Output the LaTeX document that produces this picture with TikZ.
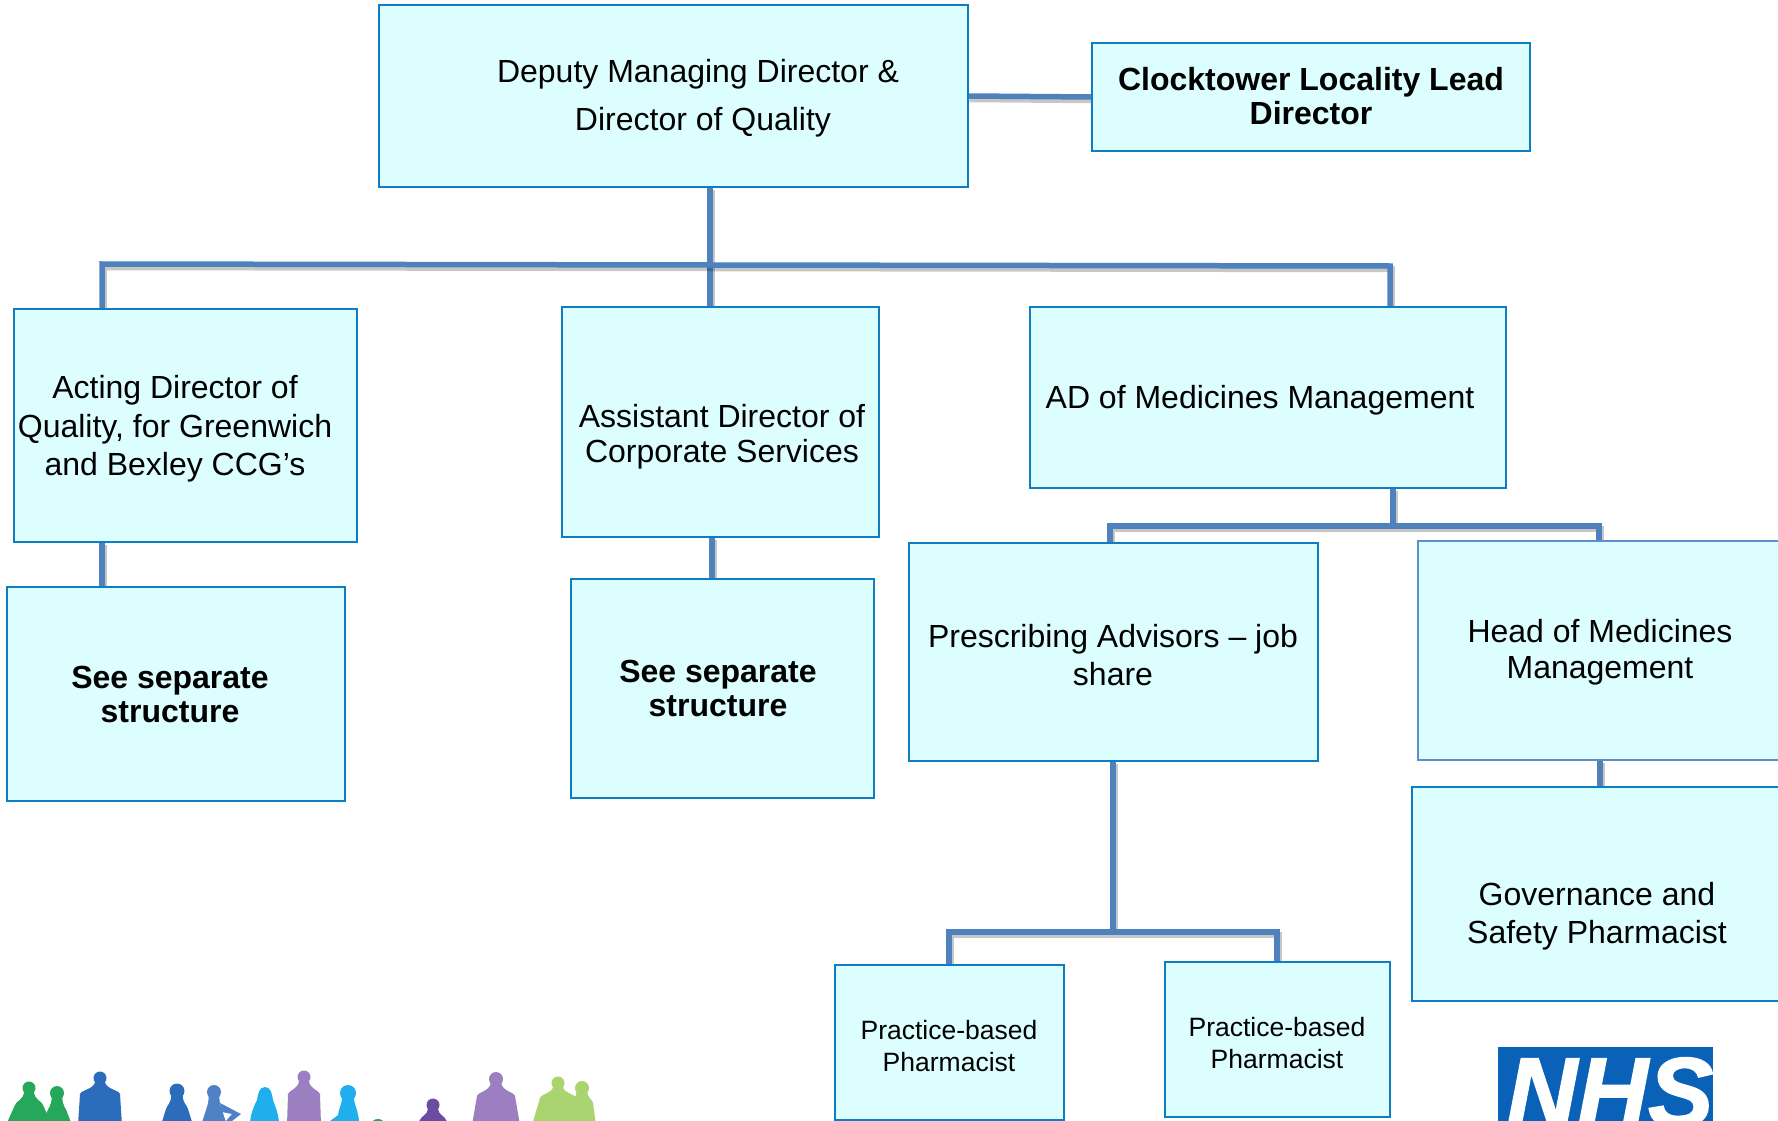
\documentclass[tikz,border=0pt]{standalone}
\usepackage{fontspec}
\setmainfont{Liberation Sans}
\newfontfamily\nhsfont[UprightFont=* Bold Italic,UprightFeatures={FakeBold=1.6}]{Liberation Sans}
\usetikzlibrary{backgrounds}
\definecolor{boxfill}{HTML}{DCFEFF}
\definecolor{boxline}{HTML}{0F7DC2}
\definecolor{softline}{HTML}{5F8FCB}
\definecolor{conncol}{HTML}{4F81BD}
\definecolor{nhsblue}{HTML}{0A62B8}
\definecolor{pgreen}{HTML}{25A85C}
\definecolor{pblue}{HTML}{2B6CBC}
\definecolor{psteel}{HTML}{4F81C7}
\definecolor{pcyan}{HTML}{1FAEEE}
\definecolor{ppurple}{HTML}{9B7FC0}
\definecolor{pdark}{HTML}{6A4CA0}
\definecolor{plime}{HTML}{A9D46F}
\tikzset{
  orgbox/.style={draw=boxline,fill=boxfill,line width=1.7pt,inner sep=0pt,outer sep=0pt},
  softbox/.style={orgbox,draw=softline},
  lbl/.style={align=center,inner sep=0pt,font=\fontsize{32}{#1}\selectfont},
  lbl/.default=38,
  blbl/.style={align=center,inner sep=0pt,font=\fontsize{32}{34}\selectfont\bfseries},
  slbl/.style={align=center,inner sep=0pt,font=\fontsize{26.5}{32}\selectfont},
  conn/.style={draw=conncol,line width=5.5pt,
    preaction={draw=black,draw opacity=.22,line width=6.5pt,transform canvas={xshift=1.5pt,yshift=-3pt}}}
}
% name, x1, y1, x2, y2, style
\newcommand{\orgrect}[6][orgbox]{%
  \pgfmathsetmacro{\bw}{#5-#3}\pgfmathsetmacro{\bh}{#6-#4}%
  \node[#1,minimum width=\bw pt,minimum height=\bh pt] (#2) at ({(#3+#5)/2},{(#4+#6)/2}) {};}
% colour, head x, head y, head r, shoulder half-width, bottom half-width, shoulder y
\newcommand{\person}[7]{%
  \fill[#1] (#2,#3) circle[radius=#4];
  \fill[#1] (#2-#6,1125) -- (#2-#5,#7+6) .. controls (#2-#5+1,#7+2) and (#2-#4*.8,#7+1) .. (#2-#4*.75,#3+#4*.5)
     -- (#2+#4*.75,#3+#4*.5) .. controls (#2+#4*.8,#7+1) and (#2+#5-1,#7+2) .. (#2+#5,#7+6) -- (#2+#6,1125) -- cycle;}
\begin{document}
\begin{tikzpicture}[x=1pt,y=-1pt]
\useasboundingbox (0,0) rectangle (1778,1121);
\clip (0,0) rectangle (1778,1121);
% boxes
\orgrect{top}{379}{5}{968}{187}
\orgrect{clock}{1092}{43}{1530}{151}
\orgrect{acting}{14}{309}{357}{542}
\orgrect{asst}{562}{307}{879}{537}
\orgrect{adm}{1030}{307}{1506}{488}
\orgrect{seea}{7}{587}{345}{801}
\orgrect{seeb}{571}{579}{874}{798}
\orgrect{presc}{909}{543}{1318}{761}
\orgrect[softbox]{head}{1418}{541}{1800}{760}
\orgrect{gov}{1412}{787}{1800}{1001}
\orgrect{pba}{835}{965}{1064}{1120}
\orgrect{pbb}{1165}{962}{1390}{1117}
% labels
\node[lbl=48] (ttop) at (698,98) {Deputy Managing Director \&\\\hspace*{10pt}Director of Quality};
\node[blbl] (tclock) at (1311,96) {Clocktower Locality Lead\\Director};
\node[lbl=38.5] (tacting) at (175,429) {Acting Director of\\Quality, for Greenwich\\and Bexley CCG’s};
\node[lbl=35] (tasst) at (722,437) {Assistant Director of\\Corporate Services};
\node[lbl] (tadm) at (1260,400) {AD of Medicines Management};
\node[blbl] (tseea) at (170,694) {See separate\\structure};
\node[blbl] (tseeb) at (718,688) {See separate\\structure};
\node[lbl=37.5] (tpresc) at (1113,655) {Prescribing Advisors – job\\share};
\node[lbl=36] (thead) at (1600,652) {Head of Medicines\\Management};
\node[lbl=38.5] (tgov) at (1597,916) {Governance and\\Safety Pharmacist};
\node[slbl] (tpba) at (949,1046) {Practice-based\\Pharmacist};
\node[slbl] (tpbb) at (1277,1043) {Practice-based\\Pharmacist};
% junctions
\coordinate (ja) at (710,265);
\coordinate (jl) at (102,264);
\coordinate (jr) at (1390,266);
\coordinate (jb) at (1393,526);
\coordinate (jbl) at (1110,526);
\coordinate (jbr) at (1599,526);
\coordinate (jc) at (1113,932);
\coordinate (jcl) at (949,932);
\coordinate (jcr) at (1277,932);
\coordinate (xs) at (712,558);
\coordinate (xg) at (1600,774);
\coordinate (xa) at (102,565);
% connectors
\begin{scope}[on background layer]
\draw[conn] (top.east) -- (clock.west);
\draw[conn] (ja |- top.south) -- (ja);
\draw[conn] (ja) -- (ja |- asst.north);
\draw[conn] (jl |- acting.north) -- (jl) -- (ja) -- (jr) -- (jr |- adm.north);
\draw[conn] (jl |- acting.south) -- (jl |- seea.north);
\draw[conn] (xs |- asst.south) -- (xs |- seeb.north);
\draw[conn] (jb |- adm.south) -- (jb);
\draw[conn] (jbl |- presc.north) -- (jbl) -- (jbr) -- (jbr |- head.north);
\draw[conn] (xg |- head.south) -- (xg |- gov.north);
\draw[conn] (jc |- presc.south) -- (jc);
\draw[conn] (jcl |- pba.north) -- (jcl) -- (jcr) -- (jcr |- pbb.north);
\end{scope}
% NHS logo
\fill[nhsblue] (1498,1047) rectangle (1713,1130);
\node[inner sep=0pt,anchor=base,text=white,font=\fontsize{98}{98}\nhsfont] (nhs) at (1610,1126) {NHS};
% people
\person{pgreen}{29}{1088}{6.5}{14}{23}{1099}
\person{pgreen}{57}{1093}{7}{10}{15}{1106}
\person{pblue}{100}{1078}{6.5}{20}{22}{1088}
\person{pblue}{177}{1091}{7.5}{11}{16}{1103}
\person{psteel}{214}{1092}{7}{8}{13}{1104}
\fill[psteel] (220,1103) -- (241,1114) -- (232,1121) -- (226,1121) -- (232,1114) -- (222,1112) -- cycle;
\fill[pcyan] (265,1087) .. controls (259,1087) and (258,1094) .. (257,1100) .. controls (253,1108) and (250,1116) .. (250,1125)
   -- (279,1125) .. controls (279,1114) and (275,1106) .. (273,1100) .. controls (272,1094) and (271,1087) .. (265,1087) -- cycle;
\person{ppurple}{304}{1077}{6.5}{16}{17}{1088}
\person{pcyan}{348}{1093}{8}{9}{12}{1104}
\fill[pcyan] (330,1121) -- (345,1110) -- (345,1121) -- cycle;
\fill[pgreen] (378,1125) ellipse[x radius=7,y radius=6];
\person{pdark}{433}{1105}{6.5}{13}{17}{1114}
\person{ppurple}{496}{1079}{7}{19}{24}{1090}
\person{plime}{558}{1083}{6.5}{18}{26}{1092}
\person{plime}{582}{1088}{7}{11}{14}{1097}
\end{tikzpicture}
\end{document}
